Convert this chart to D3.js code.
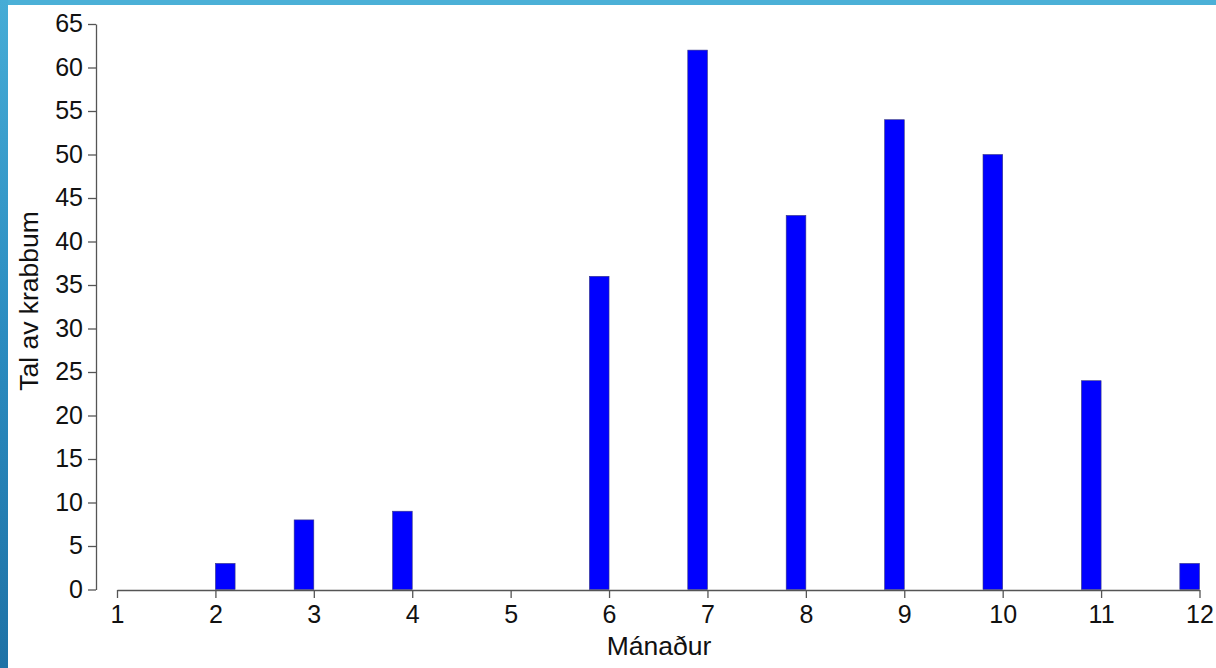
<!DOCTYPE html>
<html>
<head>
<meta charset="utf-8">
<script src="https://cdn.jsdelivr.net/npm/d3@7"></script>
<style>
  html, body { margin: 0; padding: 0; background: #fff; }
  svg { display: block; }
</style>
</head>
<body>
<svg id="chart" width="1216" height="668"></svg>
<script>
// Data (histogram of crab counts per month, bin width 0.2)
const months = [2, 3, 4, 6, 7, 8, 9, 10, 11, 12];
const counts = [3, 8, 9, 36, 62, 43, 54, 50, 24, 3];
// bin lower edges (first bin [2,2.2] is left-closed, others (m-0.2, m])
const binLow = [2, 2.8, 3.8, 5.8, 6.8, 7.8, 8.8, 9.8, 10.8, 11.8];
const binWidth = 0.2;
const xTicks = [1, 2, 3, 4, 5, 6, 7, 8, 9, 10, 11, 12];
const yTicks = [0, 5, 10, 15, 20, 25, 30, 35, 40, 45, 50, 55, 60, 65];
const xLabel = "Mánaður";
const yLabel = "Tal av krabbum";

const svg = d3.select("#chart");
const W = 1216, H = 668;

// slide background frame
const defs = svg.append("defs");
const grad = defs.append("linearGradient").attr("id", "lg").attr("x1", 0).attr("y1", 0).attr("x2", 0).attr("y2", 1);
grad.append("stop").attr("offset", "0%").attr("stop-color", "#46acd6");
grad.append("stop").attr("offset", "50%").attr("stop-color", "#2b8cc0");
grad.append("stop").attr("offset", "100%").attr("stop-color", "#1e72a6");
svg.append("rect").attr("x", 0).attr("y", 0).attr("width", W).attr("height", 5).attr("fill", "#4bb0d7");
svg.append("rect").attr("x", 0).attr("y", 0).attr("width", 8).attr("height", H).attr("fill", "url(#lg)");

const x = d3.scaleLinear().domain([1, 12]).range([117, 1199.5]);
const y = d3.scaleLinear().domain([0, 65]).range([589.5, 24]);

const font = "'Liberation Sans', Arial, sans-serif";
const axisColor = "#555";
const fs = 25;
const fsTitle = 26.5;

// bars
svg.append("g").selectAll("rect").data(months).join("rect")
  .attr("x", (d, i) => x(binLow[i]))
  .attr("width", (d, i) => x(binLow[i] + binWidth) - x(binLow[i]))
  .attr("y", (d, i) => y(counts[i]))
  .attr("height", (d, i) => y(0) - y(counts[i]))
  .attr("fill", "#0000ff")
  .attr("stroke", "#3a3a80")
  .attr("stroke-width", 0.6);

// y axis
const yAxis = svg.append("g").attr("transform", "translate(96,0)")
  .call(d3.axisLeft(y).tickValues(yTicks).tickSize(8).tickPadding(5).tickSizeOuter(0));
yAxis.select(".domain").attr("stroke", axisColor).attr("stroke-width", 1.3);
yAxis.selectAll(".tick line").attr("stroke", axisColor).attr("stroke-width", 1.3);
yAxis.selectAll(".tick text").attr("font-family", font).attr("font-size", fs).attr("fill", "#111").attr("dy", "0.3em");

// x axis
const xAxis = svg.append("g").attr("transform", "translate(0,590)")
  .call(d3.axisBottom(x).tickValues(xTicks).tickFormat(d3.format("d")).tickSize(8).tickPadding(7).tickSizeOuter(0));
xAxis.select(".domain").attr("stroke", axisColor).attr("stroke-width", 1.3);
xAxis.selectAll(".tick line").attr("stroke", axisColor).attr("stroke-width", 1.3);
xAxis.selectAll(".tick text").attr("font-family", font).attr("font-size", fs).attr("fill", "#111");

// axis labels
svg.append("text").attr("x", 659).attr("y", 655).attr("text-anchor", "middle")
  .attr("font-family", font).attr("font-size", fsTitle).attr("fill", "#111").text(xLabel);
svg.append("text").attr("transform", "translate(38,301) rotate(-90)").attr("text-anchor", "middle")
  .attr("font-family", font).attr("font-size", fsTitle).attr("fill", "#111").text(yLabel);
</script>
</body>
</html>
